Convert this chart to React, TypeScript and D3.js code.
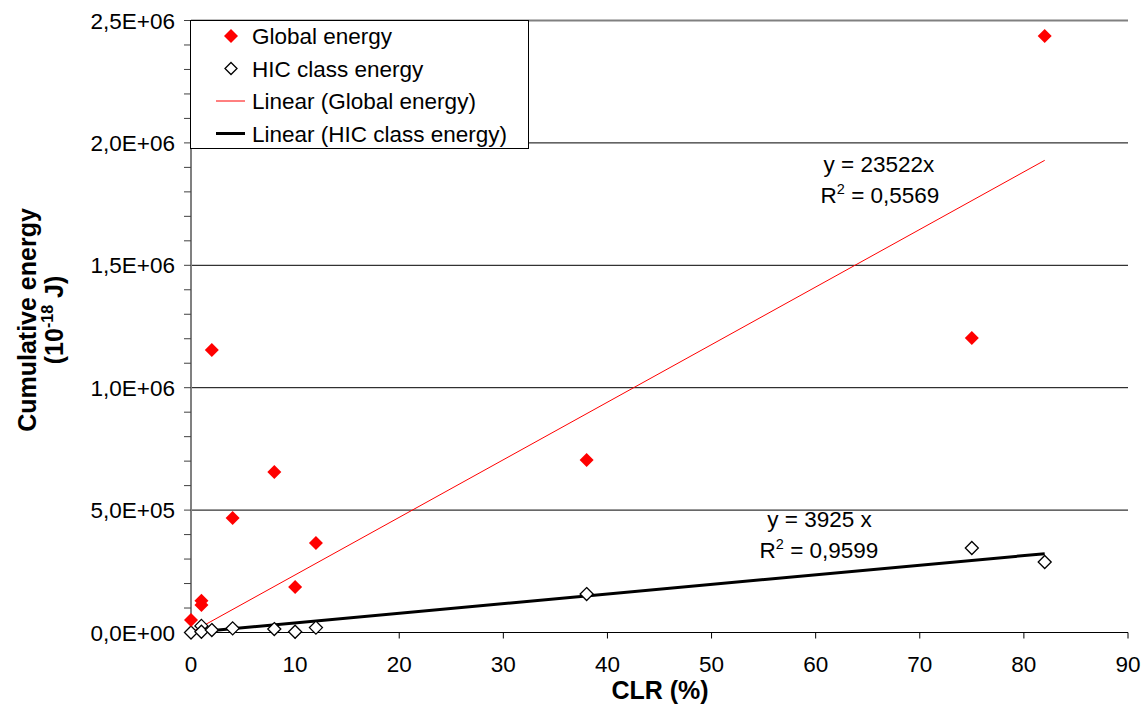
import React from "react";
import * as d3 from "d3";

const clrGlobal = [0, 1, 1, 2, 4, 8, 10, 12, 38, 75, 82];
const globalEnergy = [51000, 130000, 112000, 1154000, 468000, 656000, 186000, 366000, 705000, 1203000, 2437000];
const clrHic = [0, 1, 1, 2, 4, 8, 10, 12, 38, 75, 82];
const hicEnergy = [0, 27000, 3000, 10000, 17000, 14000, 3000, 20000, 157000, 345000, 288000];
const slopeGlobal = 23522;
const slopeHic = 3925;
const trendRange = [0, 82];
const xTicks = [0, 10, 20, 30, 40, 50, 60, 70, 80, 90];
const yTicks = [0, 500000, 1000000, 1500000, 2000000, 2500000];
const yMinorTicks = d3.range(0, 2500001, 100000);
const legendLabels = ["Global energy", "HIC class energy", "Linear (Global energy)", "Linear (HIC class energy)"];

const W = 1147, H = 708;
const FONT = "'Liberation Sans', Arial, sans-serif";

function fmt(v: number): string {
  if (v === 0) return "0,0E+00";
  const e = Math.floor(Math.log10(v));
  const m = v / Math.pow(10, e);
  return m.toFixed(1).replace(".", ",") + "E+" + String(e).padStart(2, "0");
}

function diamond(cx: number, cy: number, r: number) {
  return `M${cx},${cy - r}L${cx + r},${cy}L${cx},${cy + r}L${cx - r},${cy}Z`;
}

export default function App() {
  const x = d3.scaleLinear().domain([0, 90]).range([191, 1128]);
  const y = d3.scaleLinear().domain([0, 2500000]).range([632.5, 20.5]);

  const gLine = d3.line<[number, number]>().x((d) => x(d[0])).y((d) => y(d[1]));
  const trendG = trendRange.map((v) => [v, v * slopeGlobal] as [number, number]);
  const trendH = trendRange.map((v) => [v, v * slopeHic] as [number, number]);

  const fs = 22.5;
  const legY = [36, 68.5, 101, 133.5];

  return (
    <svg width={W} height={H} style={{ position: "absolute", left: 0, top: 0, background: "#fff" }} fontFamily={FONT}>
      <rect x={0} y={0} width={W} height={H} fill="#fff" />
      {/* grid lines */}
      {yTicks.filter((t) => t > 0).map((t) => (
        <line key={"g" + t} x1={x(0)} x2={x(90)} y1={y(t)} y2={y(t)}
          stroke={t === 2500000 ? "#808080" : "#000"} strokeWidth={t === 2500000 ? 2 : 1} />
      ))}
      {/* y axis */}
      <line x1={x(0)} x2={x(0)} y1={y(0)} y2={y(2500000)} stroke="#808080" strokeWidth={2} />
      {yMinorTicks.map((t) => (
        <line key={"yt" + t} x1={x(0) - 7} x2={x(0)} y1={y(t)} y2={y(t)} stroke="#404040" strokeWidth={1} />
      ))}
      {yTicks.map((t) => (
        <text key={"yl" + t} x={175} y={y(t)} dy="0.36em" textAnchor="end" fontSize={fs} fill="#000">{fmt(t)}</text>
      ))}
      {/* x axis */}
      <line x1={x(0)} x2={x(90)} y1={y(0)} y2={y(0)} stroke="#000" strokeWidth={1.2} />
      {xTicks.map((t) => (
        <g key={"xt" + t}>
          <line x1={x(t)} x2={x(t)} y1={y(0)} y2={y(0) + 6} stroke="#000" strokeWidth={1} />
          <text x={x(t)} y={672} textAnchor="middle" fontSize={fs} fill="#000">{t}</text>
        </g>
      ))}
      {/* axis titles */}
      <text x={660} y={699} textAnchor="middle" fontSize={25} fontWeight="bold">CLR (%)</text>
      <g transform="translate(36,320) rotate(-90)">
        <text x={0} y={0} textAnchor="middle" fontSize={25} fontWeight="bold">Cumulative energy</text>
        <text x={0} y={27} textAnchor="middle" fontSize={25} fontWeight="bold">
          (10<tspan fontSize={16} dy={-10}>-18</tspan><tspan dy={10}> J)</tspan>
        </text>
      </g>
      {/* trendlines */}
      <path d={gLine(trendG) || ""} stroke="#ff0000" strokeWidth={1} fill="none" />
      <path d={gLine(trendH) || ""} stroke="#000" strokeWidth={3} fill="none" />
      {/* points */}
      {clrHic.map((c, i) => (
        <path key={"h" + i} d={diamond(x(c), y(hicEnergy[i]), 6.5)} fill="#fff" stroke="#000" strokeWidth={1.3} />
      ))}
      {clrGlobal.map((c, i) => (
        <path key={"r" + i} d={diamond(x(c), y(globalEnergy[i]), 7)} fill="#ff0000" stroke="none" />
      ))}
      {/* equations */}
      <text x={x(66.08)} y={y(1881000)} textAnchor="middle" fontSize={fs}>y = 23522x</text>
      <text x={x(66.18)} y={y(1755000)} textAnchor="middle" fontSize={fs}>
        R<tspan fontSize={14.5} dy={-9}>2</tspan><tspan dy={9}> = 0,5569</tspan>
      </text>
      <text x={x(60.37)} y={y(431000)} textAnchor="middle" fontSize={fs}>y = 3925 x</text>
      <text x={x(60.32)} y={y(304000)} textAnchor="middle" fontSize={fs}>
        R<tspan fontSize={14.5} dy={-9}>2</tspan><tspan dy={9}> = 0,9599</tspan>
      </text>
      {/* legend */}
      <rect x={190.5} y={20.5} width={338} height={128} fill="#fff" stroke="#000" strokeWidth={1} />
      <path d={diamond(231, legY[0], 7)} fill="#ff0000" />
      <path d={diamond(231, legY[1], 6)} fill="#fff" stroke="#000" strokeWidth={1.3} />
      <line x1={216} x2={245} y1={legY[2]} y2={legY[2]} stroke="#ff0000" strokeWidth={1} />
      <line x1={216} x2={245} y1={legY[3]} y2={legY[3]} stroke="#000" strokeWidth={3} />
      {legendLabels.map((l, i) => (
        <text key={l} x={252} y={legY[i]} dy="0.36em" fontSize={fs}>{l}</text>
      ))}
    </svg>
  );
}
